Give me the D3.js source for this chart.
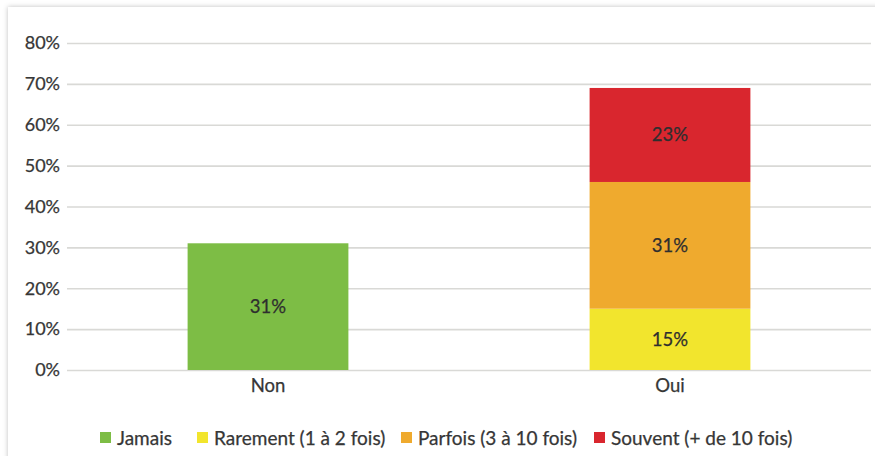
<!DOCTYPE html>
<html>
<head>
<meta charset="utf-8">
<script src="https://cdn.jsdelivr.net/npm/d3@7"></script>
<style>
  html, body { margin: 0; padding: 0; background: #fff; }
  svg { display: block; font-family: Lato, "Open Sans", sans-serif; }
  text { stroke: currentColor; stroke-width: 0.25px; }
</style>
</head>
<body>
<svg id="chart" width="875" height="456"></svg>
<script>
// Categories and stacked series (percent of respondents)
const categories = ["Non", "Oui"];
const seriesNames = ["Jamais", "Rarement (1 à 2 fois)", "Parfois (3 à 10 fois)", "Souvent (+ de 10 fois)"];
const jamais   = [31, 0];
const rarement = [0, 15];
const parfois  = [0, 31];
const souvent  = [0, 23];
const seriesColors = ["#7dbd45", "#f2e52d", "#efaa2e", "#d9262e"];
const yTicks = [0, 10, 20, 30, 40, 50, 60, 70, 80];

const svg = d3.select("#chart");
const W = 875, H = 456;
const textColor = "#363636";

// Framed panel with a soft shadow
const defs = svg.append("defs");
const f = defs.append("filter").attr("id", "shadow").attr("x", "-5%").attr("y", "-5%").attr("width", "110%").attr("height", "110%");
f.append("feDropShadow").attr("dx", 0).attr("dy", 0).attr("stdDeviation", 2.5).attr("flood-color", "#000").attr("flood-opacity", 0.25);
svg.append("rect").attr("x", 8).attr("y", 7).attr("width", 900).attr("height", 480)
  .attr("fill", "#fff").attr("filter", "url(#shadow)");

const margin = { left: 67, right: 4 };
const x = d3.scaleBand().domain(categories)
  .range([margin.left, W - margin.right])
  .paddingInner(0.6).paddingOuter(0.3);
const y = d3.scaleLinear().domain([0, 80]).range([370, 43]);

// Gridlines and y tick labels
const yAxis = d3.axisLeft(y).tickValues(yTicks)
  .tickFormat(d => d + "%")
  .tickSize(-(W - margin.right - margin.left)).tickPadding(8);
const gy = svg.append("g").attr("transform", `translate(${margin.left},0)`).call(yAxis);
gy.select(".domain").remove();
gy.selectAll(".tick line").attr("stroke", "#d9d9d6").attr("stroke-width", 1.6);
gy.selectAll(".tick text").attr("fill", textColor).attr("color", textColor).attr("font-size", 18).attr("x", -7)
  .attr("font-family", "Lato, sans-serif");

// Stacked bars
const rows = categories.map((c, i) => ({
  cat: c,
  "Jamais": jamais[i],
  "Rarement (1 à 2 fois)": rarement[i],
  "Parfois (3 à 10 fois)": parfois[i],
  "Souvent (+ de 10 fois)": souvent[i]
}));
const stack = d3.stack().keys(seriesNames)(rows);
const layers = svg.append("g").selectAll("g").data(stack).join("g")
  .attr("fill", (d, i) => seriesColors[i]);
layers.selectAll("rect").data(d => d.filter(s => s[1] - s[0] > 0)).join("rect")
  .attr("x", d => x(d.data.cat))
  .attr("width", x.bandwidth())
  .attr("y", d => y(d[1]))
  .attr("height", d => y(d[0]) - y(d[1]));

// Value labels inside segments
layers.selectAll("text").data(d => d.filter(s => s[1] - s[0] > 0)).join("text")
  .attr("x", d => x(d.data.cat) + x.bandwidth() / 2)
  .attr("y", d => y((d[0] + d[1]) / 2))
  .attr("dy", "0.35em")
  .attr("text-anchor", "middle")
  .attr("fill", "#2e2e2e")
  .attr("color", "#2e2e2e")
  .attr("font-size", 18.5)
  .text(d => (d[1] - d[0]) + "%");

// Category axis labels
const xAxis = d3.axisBottom(x).tickSize(0).tickPadding(9);
const gx = svg.append("g").attr("transform", `translate(0,${y(0)})`).call(xAxis);
gx.select(".domain").remove();
gx.selectAll(".tick text").attr("fill", textColor).attr("color", textColor).attr("font-size", 18.5).attr("font-family", "Lato, sans-serif");

// Legend
const legendX = [100, 197, 401, 594];
const lg = svg.append("g").selectAll("g").data(seriesNames).join("g")
  .attr("transform", (d, i) => `translate(${legendX[i]},438)`);
lg.append("rect").attr("x", 0).attr("y", -6).attr("width", 11).attr("height", 11)
  .attr("fill", (d, i) => seriesColors[i]);
lg.append("text").attr("x", 17).attr("y", 0).attr("dy", "0.35em")
  .attr("fill", textColor).attr("color", textColor).attr("font-size", 19).text(d => d);
</script>
</body>
</html>
